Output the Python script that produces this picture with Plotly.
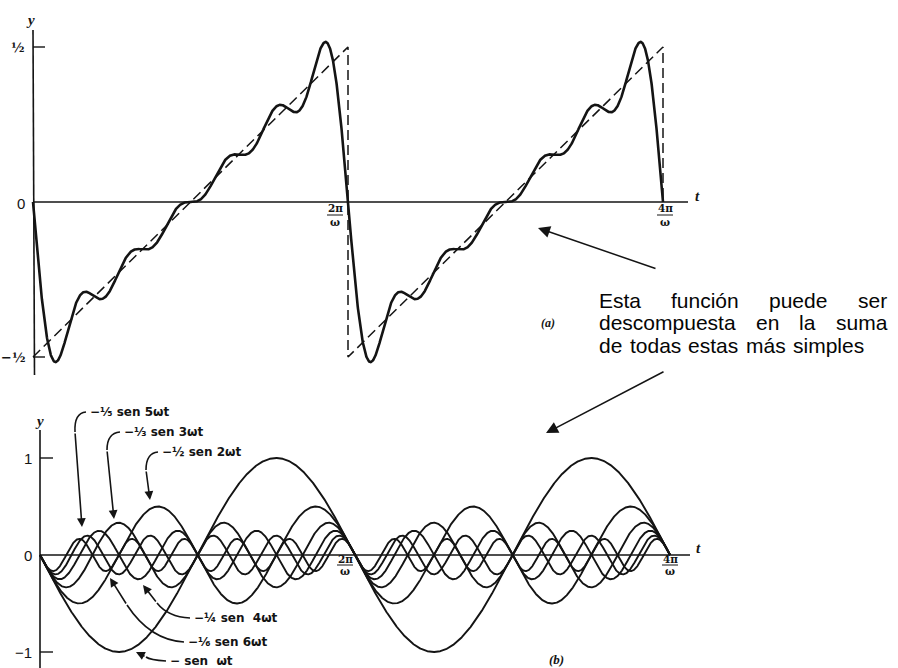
import math
import numpy as np
import plotly.graph_objects as go

W, H = 898, 668
PI = math.pi
INK = "#141414"

# ---------------- data ----------------
harmonics = [1, 2, 3, 4, 5, 6]
amplitudes = [-1.0, -1 / 2, -1 / 3, -1 / 4, -1 / 5, -1 / 6]          # coefficient of sen(n ωt)
component_labels = ["− sen  ωt", "−½ sen 2ωt", "−⅓ sen 3ωt", "−¼ sen  4ωt", "−⅕ sen 5ωt", "−⅙ sen 6ωt"]
sum_scale = 1 / PI                                                   # top curve = (1/π)·Σ components
saw_phase = [0, 2 * PI, 2 * PI, 4 * PI, 4 * PI]                      # ωt
saw_value = [-0.5, 0.5, -0.5, 0.5, 0.0]
top_ytick_vals = [0.5, 0.0, -0.5]
top_ytick_text = ["½", "0", "−½"]
bot_ytick_vals = [1, 0, -1]
bot_ytick_text = ["1", "0", "−1"]
t_tick_vals = [2 * PI, 4 * PI]
t_tick_num = ["2π", "4π"]
t_tick_den = ["ω", "ω"]
note_lines = [["Esta", "función", "puede", "ser"],
              ["descompuesta", "en", "la", "suma"],
              ["de", "todas", "estas", "más", "simples"]]

# ---------------- curves ----------------
u = np.linspace(0, 4 * PI, 2401)
components = [a * np.sin(n * u) for n, a in zip(harmonics, amplitudes)]
partial = sum_scale * np.sum(components, axis=0)

# ---------------- geometry (pixels) ----------------
K = 630 / (4 * PI)           # px per radian of ωt
T_X0, T_Y0, T_S = 33, 202, 310
B_X0, B_Y0, B_S = 40, 555, 97


def xr(x0):
    return [(0 - x0) / K, (W - x0) / K]


def yr(y0, s):
    return [(y0 - H) / s, y0 / s]


def tp(uu, v):
    return T_X0 + uu * K, T_Y0 - v * T_S


def bp(uu, v):
    return B_X0 + uu * K, B_Y0 - v * B_S


def P(px, py):
    return px / W, 1 - py / H


def txt(s, px, py, size=12, family="DejaVu Sans", xanchor="center", yanchor="middle",
        italic=False, weight="normal", color=INK):
    x, y = P(px, py)
    return dict(text=s, x=x, y=y, xref="paper", yref="paper", showarrow=False,
                xanchor=xanchor, yanchor=yanchor,
                font=dict(size=size, family=family, color=color,
                          style="italic" if italic else "normal", weight=weight))


def pline(x0, y0, x1, y1, width=1.4):
    a0, b0 = P(x0, y0)
    a1, b1 = P(x1, y1)
    return dict(type="line", xref="paper", yref="paper", x0=a0, y0=b0, x1=a1, y1=b1,
                line=dict(color=INK, width=width))


fig = go.Figure()

# top panel
fig.add_trace(go.Scatter(x=saw_phase, y=saw_value, mode="lines", xaxis="x", yaxis="y",
                         line=dict(color=INK, width=1.5, dash="10px,5px"), hoverinfo="skip"))
fig.add_trace(go.Scatter(x=u, y=partial, mode="lines", xaxis="x", yaxis="y",
                         line=dict(color=INK, width=2.6), hoverinfo="skip"))
# bottom panel
for comp in components:
    fig.add_trace(go.Scatter(x=u, y=comp, mode="lines", xaxis="x2", yaxis="y2",
                             line=dict(color=INK, width=1.9), hoverinfo="skip"))

shapes = []
ann = []

# --- top axes ---
shapes.append(pline(*tp(0, 0), 688, T_Y0, 1.5))
shapes.append(pline(T_X0, 30, T_X0 + 1.5, 375, 1.6))
for v, lab in zip(top_ytick_vals, top_ytick_text):
    x, y = tp(0, v)
    if v != 0:
        shapes.append(pline(x, y, x + 12, y, 1.4))
        ann.append(txt(lab, x - 6, y, size=13, xanchor="right", weight="bold", family="DejaVu Serif"))
    else:
        ann.append(txt(lab, x - 6, y + 1, size=15, xanchor="right", family="Liberation Sans"))
ann.append(txt("y", 30, 20, size=15, italic=True, weight="bold", family="Liberation Serif"))
ann.append(txt("t", 697, 196, size=15, italic=True, weight="bold", family="Liberation Serif"))
for tv, num, den, dx in zip(t_tick_vals, t_tick_num, t_tick_den, [-13, 2]):
    x, y = tp(tv, 0)
    cx = x + dx
    ann.append(txt(num, cx, y + 6, size=10.5, weight="bold", family="DejaVu Serif"))
    shapes.append(pline(cx - 8, y + 13, cx + 8, y + 13, 1.0))
    ann.append(txt(den, cx, y + 20, size=10.5, weight="bold", family="DejaVu Serif"))
ann.append(txt("(a)", 548, 323, size=12, italic=True, weight="bold", family="Liberation Serif"))

# --- bottom axes ---
shapes.append(pline(*bp(0, 0), 690, B_Y0, 1.5))
shapes.append(pline(B_X0, 430, B_X0, 668, 1.6))
for v, lab in zip(bot_ytick_vals, bot_ytick_text):
    x, y = bp(0, v)
    if v != 0:
        shapes.append(pline(x, y, x + 13, y, 1.4))
    ann.append(txt(lab, x - 6, y, size=15, xanchor="right", family="Liberation Sans"))
ann.append(txt("y", 39, 421, size=15, italic=True, weight="bold", family="Liberation Serif"))
ann.append(txt("t", 698, 548, size=15, italic=True, weight="bold", family="Liberation Serif"))
for tv, num, den, dx in zip(t_tick_vals, t_tick_num, t_tick_den, [-10, 0]):
    x, y = bp(tv, 0)
    cx = x + dx
    ann.append(txt(num, cx, y + 4, size=10.5, weight="bold", family="DejaVu Serif"))
    shapes.append(pline(cx - 8, y + 10, cx + 8, y + 10, 1.0))
    ann.append(txt(den, cx, y + 16, size=10.5, weight="bold", family="DejaVu Serif"))
ann.append(txt("(b)", 556, 659, size=13, italic=True, weight="bold", family="Liberation Serif"))

# --- component labels with curved arrows ---
# (label text-left px, py), bezier control, bezier end, arrow tip
label_geom = {
    1: ((168, 661), (150, 660), (146, 657), (136, 652)),
    2: ((160, 452), (146, 453), (146, 470), (150, 500)),
    3: ((122, 432), (107, 433), (107, 450), (114, 519)),
    4: ((192, 618), (168, 617), (157, 603), (143, 585)),
    5: ((88, 412), (74, 413), (75, 432), (82, 527)),
    6: ((186, 642), (150, 640), (127, 605), (110, 578)),
}
for n, lab in zip(harmonics, component_labels):
    (lx, ly), (cx, cy), (ex, ey), (tx, ty) = label_geom[n]
    ann.append(txt(lab, lx, ly, size=12, xanchor="left", family="DejaVu Sans", weight="bold"))
    a0, b0 = P(lx - 2, ly)
    a1, b1 = P(cx, cy)
    a2, b2 = P(ex, ey)
    shapes.append(dict(type="path", xref="paper", yref="paper",
                       path=f"M {a0},{b0} Q {a1},{b1} {a2},{b2}",
                       line=dict(color=INK, width=1.6)))
    x, y = P(tx, ty)
    ann.append(dict(text="", x=x, y=y, xref="paper", yref="paper", showarrow=True,
                    ax=ex - tx, ay=ey - ty, arrowhead=2, arrowsize=1.1, arrowwidth=1.6,
                    arrowcolor=INK, standoff=0, startstandoff=0))

# --- right-hand note with arrows ---
AW = {"a": 556, "b": 556, "c": 500, "d": 556, "e": 556, "f": 278, "g": 556, "h": 556, "i": 222,
      "j": 222, "k": 500, "l": 222, "m": 833, "n": 556, "o": 556, "p": 556, "q": 556, "r": 333,
      "s": 500, "t": 278, "u": 556, "v": 500, "w": 722, "x": 500, "y": 500, "z": 500, "E": 667,
      "ó": 556, "á": 556, " ": 278}
FS = 21
NOTE_L = 597
NOTE_R = [885, 885, 862]
for i, words in enumerate(note_lines):
    py = 300 + i * 22.5
    widths = [sum(AW.get(c, 556) for c in w) / 1000 * FS for w in words]
    gap = (NOTE_R[i] - NOTE_L - sum(widths)) / (len(words) - 1)
    x = NOTE_L
    for w, wd in zip(words, widths):
        ann.append(txt(w, x, py, size=FS, xanchor="left", family="Liberation Sans", color="#050505"))
        x += wd + gap

for (tx, ty), (sx, sy) in [((538, 228), (657, 269)), ((546, 433), (665, 371))]:
    x, y = P(tx, ty)
    ann.append(dict(text="", x=x, y=y, xref="paper", yref="paper", showarrow=True,
                    ax=sx - tx, ay=sy - ty, arrowhead=2, arrowsize=1.6, arrowwidth=1.5,
                    arrowcolor=INK, standoff=0))

fig.update_layout(
    width=W, height=H, autosize=False,
    margin=dict(l=0, r=0, t=0, b=0, pad=0),
    paper_bgcolor="white", plot_bgcolor="rgba(0,0,0,0)", showlegend=False,
    xaxis=dict(domain=[0, 1], range=xr(T_X0), visible=False, fixedrange=True),
    yaxis=dict(domain=[0, 1], range=yr(T_Y0, T_S), visible=False, fixedrange=True, anchor="x"),
    xaxis2=dict(domain=[0, 1], range=xr(B_X0), visible=False, fixedrange=True, anchor="y2"),
    yaxis2=dict(domain=[0, 1], range=yr(B_Y0, B_S), visible=False, fixedrange=True, anchor="x2"),
    shapes=shapes, annotations=ann,
)

fig.write_html("out.html", config={"displayModeBar": False},
               post_script="document.body.style.margin='0px';document.body.style.overflow='hidden';")
